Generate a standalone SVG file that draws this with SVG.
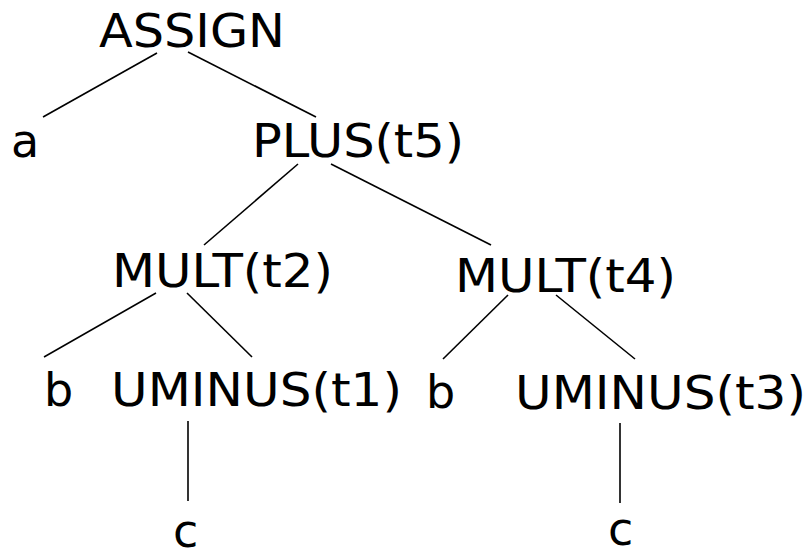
<svg xmlns="http://www.w3.org/2000/svg" width="809" height="552" viewBox="0 0 809 552">
<style>
text{font-family:Verdana,"DejaVu Sans",sans-serif;font-size:46px;fill:#000}
line{stroke:#000;stroke-width:1.6;fill:none}
</style>
<rect width="809" height="552" fill="#fff"/>
<g id="connectors">
<line x1="157" y1="53" x2="43" y2="117"/>
<line x1="188" y1="52" x2="316" y2="117"/>
<line x1="298" y1="164" x2="204" y2="245"/>
<line x1="331" y1="164" x2="491" y2="245"/>
<line x1="156" y1="293" x2="44" y2="357"/>
<line x1="187" y1="293" x2="252" y2="357"/>
<line x1="508" y1="295" x2="443" y2="359"/>
<line x1="556" y1="295" x2="635" y2="359"/>
<line x1="188" y1="421" x2="188" y2="501"/>
<line x1="620" y1="423" x2="620" y2="503"/>
</g>
<g id="n-assign"><text x="99" y="47" textLength="186" lengthAdjust="spacingAndGlyphs">ASSIGN</text></g>
<g id="n-a"><text x="11" y="157">a</text></g>
<g id="n-plus"><text x="252" y="157" textLength="212" lengthAdjust="spacingAndGlyphs">PLUS(t5)</text></g>
<g id="n-mult2"><text x="112" y="287" textLength="221" lengthAdjust="spacingAndGlyphs">MULT(t2)</text></g>
<g id="n-mult4"><text x="455" y="292" textLength="221" lengthAdjust="spacingAndGlyphs">MULT(t4)</text></g>
<g id="n-b1"><text x="44" y="406">b</text></g>
<g id="n-uminus1"><text x="111" y="406" textLength="291" lengthAdjust="spacingAndGlyphs">UMINUS(t1)</text></g>
<g id="n-b2"><text x="426" y="408">b</text></g>
<g id="n-uminus3"><text x="515" y="409" textLength="291" lengthAdjust="spacingAndGlyphs">UMINUS(t3)</text></g>
<g id="n-c1"><text x="173" y="547">c</text></g>
<g id="n-c2"><text x="608" y="545">c</text></g>
</svg>
